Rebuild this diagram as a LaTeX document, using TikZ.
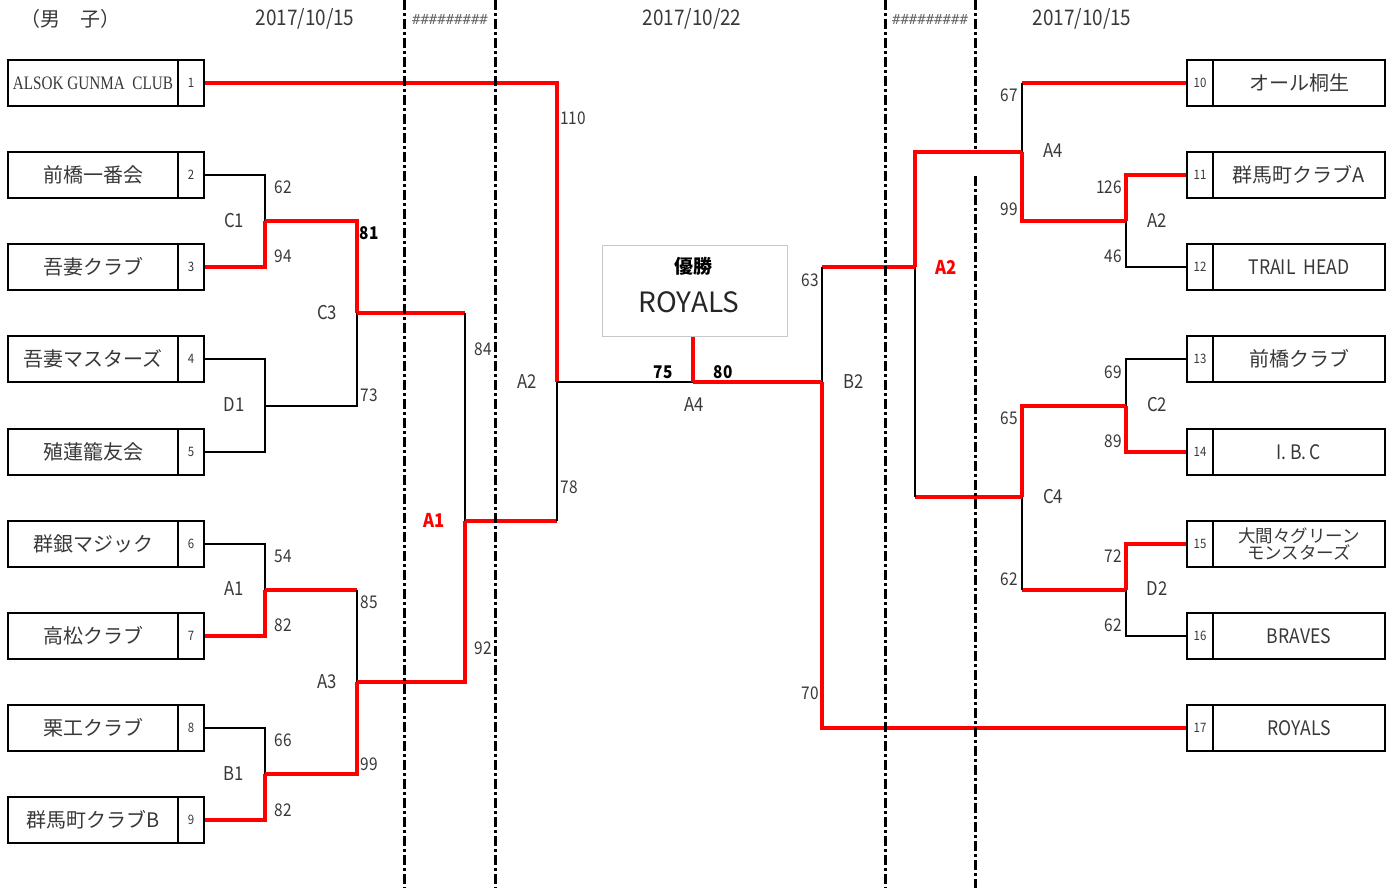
\documentclass[tikz,border=0pt]{standalone}
\usepackage{fontspec}
\usepackage{graphicx}
\setmainfont{Noto Sans CJK JP}
\newfontfamily\narf[FakeStretch=0.88]{Noto Sans CJK JP}
\newfontfamily\serf[FakeStretch=0.8]{Liberation Serif}
\newfontfamily\monf{DejaVu Sans Mono}
\definecolor{txt}{HTML}{383838}
\definecolor{wred}{HTML}{FF0000}
\definecolor{boxgray}{HTML}{C8C8C8}
\begin{document}
\begin{tikzpicture}[x=1pt,y=-1pt,
  win/.style={draw=wred,line width=3.3pt},
  lose/.style={draw=black,line width=1.3pt},
  sepline/.style={draw=black,line width=3pt,dash pattern=on 10pt off 3pt on 3pt off 3pt},
  namebox/.style={draw,line width=1.6pt,minimum height=46pt,inner sep=0pt,text=txt,font=\fontsize{20}{22}\selectfont},
  lnamebox/.style={namebox,minimum width=170pt},
  rnamebox/.style={namebox,minimum width=172pt},
  numbox/.style={draw,line width=1.6pt,minimum width=26pt,minimum height=46pt,inner sep=0pt,text=txt,font=\narf\fontsize{13}{15}\selectfont},
  scorelbl/.style={text=txt,inner sep=0pt,font=\narf\fontsize{17.5}{19}\selectfont},
  rndlbl/.style={text=txt,inner sep=0pt,font=\narf\fontsize{19}{21}\selectfont},
  redrnd/.style={text=wred,inner sep=0pt,font=\narf\bfseries\fontsize{19}{21}\selectfont},
  bscore/.style={text=black,inner sep=0pt,font=\narf\bfseries\fontsize{17.5}{19}\selectfont},
  datelbl/.style={text=txt,inner sep=0pt,font=\narf\fontsize{21.5}{23}\selectfont},
  hashlbl/.style={text=black!60,inner sep=0pt,font=\monf\fontsize{14}{16}\selectfont},
  latn/.style={font=\narf\fontsize{20}{22}\selectfont}
]
\useasboundingbox (0,0) rectangle (1395,888);

% ---------- team boxes, left ----------
\node[lnamebox] (t1) at (93,83) {\serf\fontsize{19}{21}\selectfont ALSOK\ GUNMA\ \ CLUB};
\node[numbox]   (n1) at (191,83) {1};
\node[lnamebox] (t2) at (93,175) {前橋一番会};
\node[numbox]   (n2) at (191,175) {2};
\node[lnamebox] (t3) at (93,267) {吾妻クラブ};
\node[numbox]   (n3) at (191,267) {3};
\node[lnamebox] (t4) at (93,359) {吾妻マスターズ};
\node[numbox]   (n4) at (191,359) {4};
\node[lnamebox] (t5) at (93,452) {殖蓮籠友会};
\node[numbox]   (n5) at (191,452) {5};
\node[lnamebox] (t6) at (93,544) {群銀マジック};
\node[numbox]   (n6) at (191,544) {6};
\node[lnamebox] (t7) at (93,636) {高松クラブ};
\node[numbox]   (n7) at (191,636) {7};
\node[lnamebox] (t8) at (93,728) {栗工クラブ};
\node[numbox]   (n8) at (191,728) {8};
\node[lnamebox] (t9) at (93,820) {群馬町クラブB};
\node[numbox]   (n9) at (191,820) {9};

% ---------- team boxes, right ----------
\node[numbox]   (n10) at (1200,83) {10};
\node[rnamebox] (t10) at (1299,83) {オール桐生};
\node[numbox]   (n11) at (1200,175) {11};
\node[rnamebox] (t11) at (1299,175) {群馬町クラブA};
\node[numbox]   (n12) at (1200,267) {12};
\node[rnamebox,latn] (t12) at (1299,267) {TRAIL\ \ HEAD};
\node[numbox]   (n13) at (1200,359) {13};
\node[rnamebox] (t13) at (1299,359) {前橋クラブ};
\node[numbox]   (n14) at (1200,452) {14};
\node[rnamebox,latn] (t14) at (1299,452) {I.\,B.\,C};
\node[numbox]   (n15) at (1200,544) {15};
\node[rnamebox,align=center,font=\fontsize{17.5}{17.5}\selectfont] (t15) at (1299,544) {大間々グリーン\\モンスターズ};
\node[numbox]   (n16) at (1200,636) {16};
\node[rnamebox,latn] (t16) at (1299,636) {BRAVES};
\node[numbox]   (n17) at (1200,728) {17};
\node[rnamebox,latn] (t17) at (1299,728) {ROYALS};

% ---------- champion box ----------
\node[draw=boxgray,line width=1pt,minimum width=185pt,minimum height=91pt,inner sep=0pt] (W) at (694.5,290.5) {};
\node[inner sep=0pt,font=\bfseries\fontsize{19}{21}\selectfont] (Wt) at (693,266) {優勝};
\node[inner sep=0pt,text=black!85,font=\fontsize{28}{30}\selectfont] (Wn) at (689,302) {ROYALS};

% ---------- junctions ----------
\coordinate (C1) at (265,221);
\coordinate (D1) at (265,406);
\coordinate (A1a) at (265,590);
\coordinate (B1) at (265,774);
\coordinate (C3) at (357,313);
\coordinate (A3) at (357,682);
\coordinate (A1b) at (465,521);
\coordinate (A2L) at (557,382);
\coordinate (A4) at (693,382);
\coordinate (A2R) at (1126,221);
\coordinate (C2) at (1126,406);
\coordinate (D2) at (1126,590);
\coordinate (A4R) at (1022,152);
\coordinate (C4) at (1022,497);
\coordinate (A2c) at (915,267);
\coordinate (B2) at (822,382);

% ---------- left bracket ----------
\draw[lose] (n2.east) -| (C1);
\draw[win]  (n3.east) -| (C1);
\draw[lose] (n4.east) -| (D1);
\draw[lose] (n5.east) -| (D1);
\draw[lose] (n6.east) -| (A1a);
\draw[win]  (n7.east) -| (A1a);
\draw[lose] (n8.east) -| (B1);
\draw[win]  (n9.east) -| (B1);
\draw[win]  (C1) -| (C3);
\draw[lose] (D1) -| (C3);
\draw[win]  (A1a) -- (A1a -| A3);
\draw[lose] (A1a -| A3) -- (A3);
\draw[win]  (B1) -| (A3);
\draw[win]  (C3) -- (C3 -| A1b);
\draw[lose] (C3 -| A1b) -- (A1b);
\draw[win]  (A3) -| (A1b);
\draw[win]  (n1.east) -| (A2L);
\draw[win]  (A1b) -- (A1b -| A2L);
\draw[lose] (A1b -| A2L) -- (A2L);
\draw[lose] (A2L) -- (A4);

% ---------- right bracket ----------
\draw[win]  (n11.west) -| (A2R);
\draw[lose] (n12.west) -| (A2R);
\draw[lose] (n13.west) -| (C2);
\draw[win]  (n14.west) -| (C2);
\draw[win]  (n15.west) -| (D2);
\draw[lose] (n16.west) -| (D2);
\draw[win]  (n10.west) -- (n10.west -| A4R);
\draw[lose] (n10.west -| A4R) -- (A4R);
\draw[win]  (A2R) -| (A4R);
\draw[win]  (C2) -| (C4);
\draw[win]  (D2) -- (D2 -| C4);
\draw[lose] (D2 -| C4) -- (C4);
\draw[win]  (A4R) -| (A2c);
\draw[win]  (C4) -- (C4 -| A2c);
\draw[lose] (C4 -| A2c) -- (A2c);
\draw[win]  (A2c) -- (A2c -| B2);
\draw[lose] (A2c -| B2) -- (B2);
\draw[win]  (n17.west) -| (B2);
\draw[win]  (B2) -- (A4);
\draw[win]  (A4) -- (A4 |- W.south);

% ---------- separator lines ----------
\coordinate (s1t) at (404,0);   \coordinate (s1b) at (404,888);
\coordinate (s2t) at (495,0);   \coordinate (s2b) at (495,888);
\coordinate (s3t) at (885,0);   \coordinate (s3b) at (885,888);
\coordinate (s4t) at (975,0);   \coordinate (s4m) at (975,151);
\coordinate (s4n) at (975,176); \coordinate (s4b) at (975,888);
\draw[sepline] (s1t) -- (s1b);
\draw[sepline] (s2t) -- (s2b);
\draw[sepline] (s3t) -- (s3b);
\draw[sepline] (s4t) -- (s4m);
\draw[sepline] (s4n) -- (s4b);

% ---------- header ----------
\node[text=txt,inner sep=0pt,font=\fontsize{20}{22}\selectfont] (title) at (70,19) {（男　子）};
\node[datelbl] (d1) at (305,19) {2017/10/15};
\node[hashlbl] (h1) at (450,19) {\#\#\#\#\#\#\#\#\#};
\node[datelbl] (d2) at (692,19) {2017/10/22};
\node[hashlbl] (h2) at (930,19) {\#\#\#\#\#\#\#\#\#};
\node[datelbl] (d3) at (1082,19) {2017/10/15};

% ---------- labels, left ----------
\node[scorelbl] (s62a) at (283,187) {62};
\node[rndlbl]   (rC1)  at (234,221) {C1};
\node[scorelbl] (s94)  at (283,256) {94};
\node[bscore]   (s81)  at (369,233) {81};
\node[rndlbl]   (rC3)  at (327,313) {C3};
\node[scorelbl] (s73)  at (369,395) {73};
\node[rndlbl]   (rD1)  at (234,405) {D1};
\node[scorelbl] (s84)  at (483,349) {84};
\node[rndlbl]   (rA2a) at (527,382) {A2};
\node[scorelbl] (s110) at (573,118) {110};
\node[scorelbl] (s78)  at (569,487) {78};
\node[redrnd]   (rA1r) at (434,520) {A1};
\node[scorelbl] (s92)  at (483,648) {92};
\node[scorelbl] (s54)  at (283,556) {54};
\node[rndlbl]   (rA1)  at (234,589) {A1};
\node[scorelbl] (s82a) at (283,625) {82};
\node[scorelbl] (s85)  at (369,602) {85};
\node[rndlbl]   (rA3)  at (327,682) {A3};
\node[scorelbl] (s66)  at (283,740) {66};
\node[rndlbl]   (rB1)  at (234,774) {B1};
\node[scorelbl] (s82b) at (283,810) {82};
\node[scorelbl] (s99a) at (369,764) {99};

% ---------- labels, centre ----------
\node[bscore] (s75) at (663,372) {75};
\node[bscore] (s80) at (723,372) {80};
\node[rndlbl] (rA4) at (694,405) {A4};

% ---------- labels, right ----------
\node[scorelbl] (s63)  at (810,280) {63};
\node[rndlbl]   (rB2)  at (854,382) {B2};
\node[scorelbl] (s70)  at (810,693) {70};
\node[redrnd]   (rA2r) at (946,267) {A2};
\node[scorelbl] (s67)  at (1009,95) {67};
\node[rndlbl]   (rA4r) at (1053,151) {A4};
\node[scorelbl] (s99b) at (1009,209) {99};
\node[scorelbl] (s126) at (1109,187) {126};
\node[rndlbl]   (rA2b) at (1157,221) {A2};
\node[scorelbl] (s46)  at (1113,256) {46};
\node[scorelbl] (s69)  at (1113,372) {69};
\node[rndlbl]   (rC2)  at (1157,405) {C2};
\node[scorelbl] (s89)  at (1113,441) {89};
\node[scorelbl] (s65)  at (1009,418) {65};
\node[rndlbl]   (rC4)  at (1053,497) {C4};
\node[scorelbl] (s62b) at (1009,579) {62};
\node[scorelbl] (s72)  at (1113,556) {72};
\node[rndlbl]   (rD2)  at (1157,589) {D2};
\node[scorelbl] (s62c) at (1113,625) {62};
\end{tikzpicture}
\end{document}
